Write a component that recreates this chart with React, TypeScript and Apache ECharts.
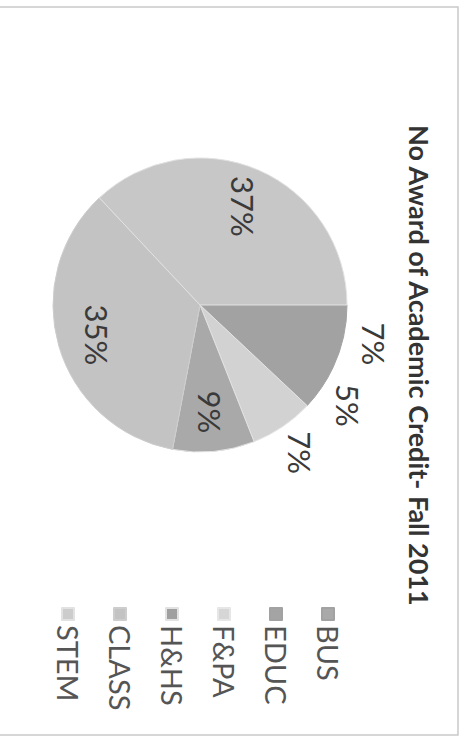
import React, { useEffect, useRef } from "react";
import * as echarts from "echarts";

const titleText = "No Award of Academic Credit- Fall 2011";
const categories = ["BUS", "EDUC", "F&PA", "H&HS", "CLASS", "STEM"];
const values = [7, 5, 7, 9, 35, 37];
const insideLabel = [false, false, false, true, true, true];

const sliceColors = ["#a2a2a2", "#a2a2a2", "#d2d2d2", "#a9a9a9", "#c3c3c3", "#c7c7c7"];
const sliceBorders = ["#a2a2a2", "#a2a2a2", "#e6e6e6", "#e2e2e2", "#cdcdcd", "#e2e2e2"];
const legendColors = ["#a9a9a9", "#a4a4a4", "#d6d6d6", "#9f9f9f", "#c3c3c3", "#cccccc"];
const FONT = "Lato, 'Open Sans', sans-serif";

export default function App() {
  const ref = useRef<HTMLDivElement>(null);
  useEffect(() => {
    if (!ref.current) return;
    const chart = echarts.init(ref.current, undefined, { renderer: "svg" });
    const R = 147;
    const center = [305, 268];
    const labelText = {
      color: "#3a3a3a",
      fontSize: 31,
      fontFamily: FONT,
      formatter: (p: any) => `${Math.round(p.percent)}%`,
    };
    chart.setOption({
      animation: false,
      backgroundColor: "#ffffff",
      title: {
        text: titleText,
        left: 120,
        top: 30,
        textStyle: { fontSize: 27, fontWeight: "bold", color: "#333", fontFamily: FONT },
      },
      legend: {
        orient: "vertical",
        left: 602,
        top: 119,
        itemWidth: 12,
        itemHeight: 12,
        itemGap: 20,
        icon: "rect",
        selectedMode: false,
        textStyle: { fontSize: 29, lineHeight: 32, color: "#555", fontFamily: FONT },
        data: categories.map((c, i) => ({ name: c, itemStyle: { color: legendColors[i] } })),
      },
      graphic: [
        {
          type: "rect",
          shape: { x: 7, y: 10, width: 728, height: 480 },
          style: { fill: "none", stroke: "#c9c9c9", lineWidth: 1.5 },
          silent: true,
        },
      ],
      series: [
        {
          type: "pie",
          name: "slices",
          center,
          radius: [0, R],
          startAngle: 90,
          clockwise: true,
          silent: true,
          label: { show: false },
          labelLine: { show: false },
          data: categories.map((c, i) => ({
            name: c,
            value: values[i],
            itemStyle: {
              color: sliceColors[i],
              borderColor: sliceBorders[i],
              borderWidth: 1,
            },
          })),
        },
        {
          type: "pie",
          name: "inner-labels",
          center,
          radius: [62, R],
          startAngle: 90,
          clockwise: true,
          silent: true,
          itemStyle: { color: "rgba(0,0,0,0)", borderWidth: 0 },
          labelLine: { show: false },
          label: { show: true, position: "inside", ...labelText },
          data: categories.map((c, i) => ({
            name: c,
            value: values[i],
            label: { show: insideLabel[i] },
          })),
        },
        {
          type: "pie",
          name: "outer-labels",
          center,
          radius: [R, 204],
          startAngle: 90,
          clockwise: true,
          silent: true,
          itemStyle: { color: "rgba(0,0,0,0)", borderWidth: 0 },
          labelLine: { show: false },
          label: { show: true, position: "inside", ...labelText },
          data: categories.map((c, i) => ({
            name: c,
            value: values[i],
            label: { show: !insideLabel[i] },
          })),
        },
      ],
    });
    return () => chart.dispose();
  }, []);

  return (
    <div
      style={{
        position: "absolute",
        left: 0,
        top: 0,
        width: 468,
        height: 742,
        overflow: "hidden",
        background: "#fff",
      }}
    >
      <div
        ref={ref}
        style={{
          position: "absolute",
          left: 0,
          top: 0,
          width: 742,
          height: 468,
          transformOrigin: "0 0",
          transform: "translate(468px, 0px) rotate(90deg)",
        }}
      />
    </div>
  );
}
